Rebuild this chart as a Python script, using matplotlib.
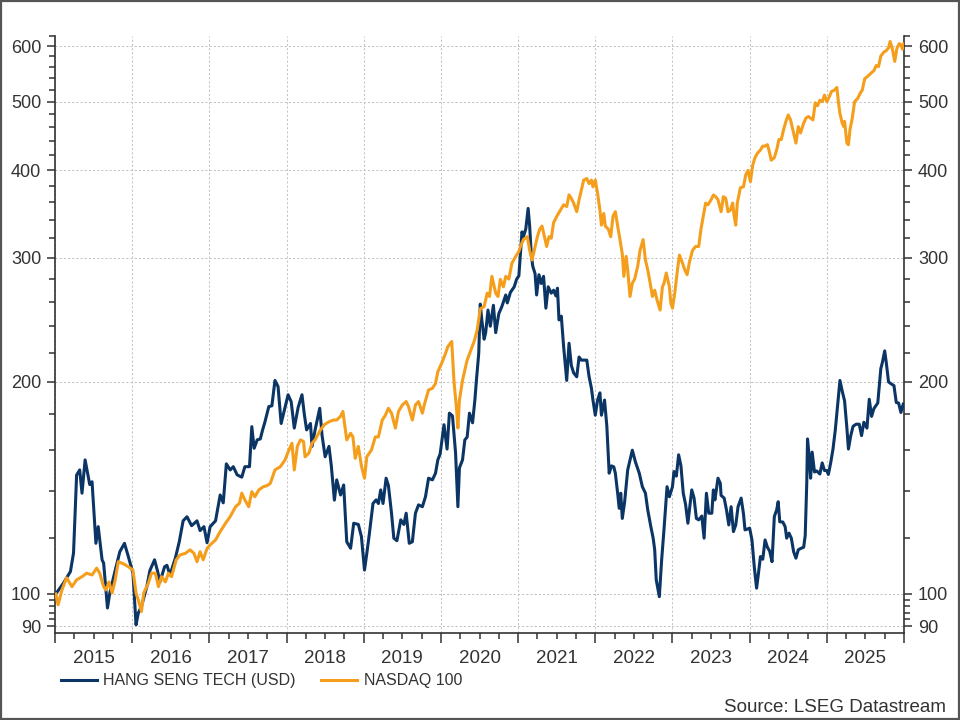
import matplotlib
matplotlib.use('Agg')
import matplotlib.pyplot as plt
import matplotlib.ticker as mticker
from matplotlib.patches import Rectangle

# ---------------- data ----------------
hs_time = [
    2015.01, 2015.11, 2015.20, 2015.24, 2015.28, 2015.32, 2015.35, 2015.39, 2015.45, 2015.48,
    2015.53, 2015.56, 2015.61, 2015.63, 2015.68, 2015.71, 2015.78, 2015.84, 2015.90, 2015.95,
    2016.01, 2016.05, 2016.08, 2016.12, 2016.19, 2016.23, 2016.29, 2016.33, 2016.36, 2016.42,
    2016.45, 2016.49, 2016.56, 2016.61, 2016.66, 2016.71, 2016.77, 2016.84, 2016.88, 2016.93,
    2016.97,
    2017.01, 2017.08, 2017.14, 2017.18, 2017.22, 2017.27, 2017.31, 2017.36, 2017.42, 2017.46,
    2017.52, 2017.55, 2017.58, 2017.62, 2017.66, 2017.69, 2017.72, 2017.77, 2017.81, 2017.85,
    2017.89, 2017.93, 2017.97,
    2018.02, 2018.06, 2018.10, 2018.15, 2018.20, 2018.23, 2018.26, 2018.31, 2018.33, 2018.37,
    2018.43, 2018.46, 2018.50, 2018.55, 2018.58, 2018.62, 2018.65, 2018.70, 2018.74, 2018.78,
    2018.83, 2018.87, 2018.93, 2018.97,
    2019.01, 2019.04, 2019.07, 2019.12, 2019.16, 2019.19, 2019.22, 2019.25, 2019.29, 2019.32,
    2019.36, 2019.39, 2019.43, 2019.48, 2019.52, 2019.55, 2019.59, 2019.63, 2019.67, 2019.71,
    2019.76, 2019.80, 2019.84, 2019.89, 2019.93, 2019.96, 2019.99,
    2020.04, 2020.08, 2020.11, 2020.15, 2020.19, 2020.22, 2020.24, 2020.28, 2020.31, 2020.34,
    2020.37, 2020.41, 2020.44, 2020.46, 2020.49, 2020.51, 2020.53, 2020.56, 2020.58, 2020.61,
    2020.64, 2020.68, 2020.71, 2020.75, 2020.79, 2020.84, 2020.86, 2020.90, 2020.95, 2020.98,
    2021.01, 2021.03, 2021.05, 2021.07, 2021.10, 2021.13, 2021.15, 2021.17, 2021.19, 2021.22,
    2021.24, 2021.27, 2021.30, 2021.33, 2021.36, 2021.39, 2021.43, 2021.46, 2021.49, 2021.51,
    2021.53, 2021.56, 2021.59, 2021.63, 2021.66, 2021.69, 2021.72, 2021.76, 2021.79, 2021.82,
    2021.85, 2021.89, 2021.92, 2021.95, 2021.97,
    2022.00, 2022.03, 2022.06, 2022.08, 2022.12, 2022.15, 2022.18, 2022.21, 2022.24, 2022.26,
    2022.29, 2022.31, 2022.33, 2022.35, 2022.38, 2022.42, 2022.45, 2022.48, 2022.52, 2022.57,
    2022.61, 2022.65, 2022.68, 2022.72, 2022.75, 2022.77, 2022.79, 2022.83, 2022.86, 2022.89,
    2022.93, 2022.96,
    2023.00, 2023.02, 2023.05, 2023.08, 2023.11, 2023.14, 2023.17, 2023.20, 2023.25, 2023.28,
    2023.31, 2023.34, 2023.38, 2023.41, 2023.44, 2023.47, 2023.51, 2023.53, 2023.55, 2023.59,
    2023.62, 2023.63, 2023.67, 2023.70, 2023.73, 2023.76, 2023.79, 2023.82, 2023.85, 2023.89,
    2023.92, 2023.94, 2023.97,
    2024.00, 2024.03, 2024.06, 2024.09, 2024.11, 2024.14, 2024.17, 2024.20, 2024.23, 2024.26,
    2024.29, 2024.32, 2024.35, 2024.37, 2024.39, 2024.43, 2024.46, 2024.48, 2024.51, 2024.54,
    2024.57, 2024.60, 2024.63, 2024.66, 2024.70, 2024.72, 2024.74, 2024.75, 2024.77, 2024.79,
    2024.81, 2024.84, 2024.87, 2024.91, 2024.94, 2024.97,
    2025.00, 2025.02, 2025.05, 2025.08, 2025.11, 2025.14, 2025.17, 2025.20, 2025.23, 2025.26,
    2025.28, 2025.31, 2025.34, 2025.38, 2025.42, 2025.45, 2025.48, 2025.52, 2025.55, 2025.58,
    2025.61, 2025.66, 2025.70, 2025.72, 2025.75, 2025.77, 2025.80, 2025.83, 2025.87, 2025.90,
    2025.93, 2025.96, 2025.99,
]
hs_value = [
    100.0, 103.6, 107.6, 114.3, 147.5, 150.0, 139.0, 155.0, 143.0, 144.3,
    118.0, 124.6, 111.8, 110.6, 95.5, 100.3, 108.0, 114.8, 118.0, 113.0,
    107.0, 90.4, 94.0, 96.0, 102.4, 108.0, 111.8, 107.6, 104.0, 109.3,
    109.8, 106.4, 112.5, 118.6, 127.0, 128.7, 125.0, 127.0, 123.0, 124.6,
    118.2,
    124.6, 127.0, 138.2, 134.7, 153.0, 150.0, 151.6, 147.6, 146.5, 151.6,
    151.6, 172.8, 161.0, 165.5, 166.0, 171.0, 175.5, 184.5, 185.0, 201.0,
    197.0, 174.6, 182.0,
    191.8, 187.5, 172.0, 184.0, 191.8, 180.0, 171.0, 174.6, 162.0, 171.0,
    183.5, 168.0, 156.6, 162.0, 152.0, 135.9, 145.2, 138.2, 142.8, 118.6,
    116.1, 126.0, 125.5, 120.6,
    108.1, 114.2, 121.0, 134.4, 136.0, 134.4, 140.5, 134.4, 146.0, 142.5,
    130.2, 120.0, 119.0, 127.4, 125.5, 130.2, 118.0, 118.6, 130.2, 133.8,
    133.0, 137.4, 146.0, 145.2, 148.4, 155.0, 158.0,
    173.9, 160.6, 180.6, 179.0, 158.5, 133.0, 151.0, 155.0, 165.5, 167.0,
    180.6, 175.0, 188.5, 201.0, 219.6, 258.0, 245.0, 230.0, 235.0, 253.0,
    240.0, 257.0, 235.0, 250.0, 256.0, 265.8, 259.0, 268.0, 273.0, 279.7,
    283.0, 304.0, 326.7, 322.0, 330.0, 352.8, 333.0, 304.0, 292.0, 285.0,
    265.8, 284.0, 276.0, 282.5, 254.6, 273.0, 267.4, 270.0, 265.0, 271.8,
    245.0, 248.0, 224.5, 201.0, 227.0, 211.0, 206.0, 203.4, 217.0, 214.8,
    214.8, 214.8, 203.4, 196.0, 188.5,
    179.4, 188.5, 193.0, 179.4, 188.5, 173.0, 148.4, 152.0, 151.5, 148.4,
    139.0, 132.3, 139.0, 128.0, 135.0, 150.0, 155.0, 160.0, 154.0, 148.4,
    142.0, 139.0, 131.6, 124.6, 120.0, 115.5, 104.7, 99.1, 111.8, 123.3,
    142.0, 137.4,
    142.0, 149.2, 147.0, 157.6, 152.0, 139.0, 134.0, 126.0, 140.5, 136.8,
    128.0, 127.4, 129.0, 120.0, 139.0, 130.2, 130.2, 140.5, 136.0, 146.0,
    143.6, 138.0, 136.8, 131.6, 125.3, 133.0, 122.6, 125.3, 133.0, 136.8,
    130.0, 123.3, 123.6,
    124.0, 119.3, 109.3, 101.9, 106.0, 113.0, 112.0, 119.3, 116.5, 115.0,
    111.1, 128.8, 131.6, 135.2, 126.6, 126.5, 124.6, 120.0, 122.0, 120.0,
    114.8, 112.4, 115.5, 116.0, 116.5, 121.0, 143.6, 166.0, 157.5, 146.0,
    159.0, 149.0, 149.5, 148.0, 153.5, 149.7,
    149.7, 147.8, 153.5, 160.6, 171.0, 185.5, 201.0, 194.0, 188.0, 172.0,
    160.6, 167.8, 173.0, 174.2, 174.2, 167.8, 175.3, 172.0, 189.0, 178.7,
    183.3, 186.7, 209.0, 213.2, 221.4, 213.2, 200.0, 198.9, 197.6, 187.0,
    186.7, 181.0, 186.0,
]

nq_time = [
    2015.01, 2015.04, 2015.09, 2015.15, 2015.22, 2015.28, 2015.35, 2015.41, 2015.48, 2015.54,
    2015.58, 2015.63, 2015.66, 2015.70, 2015.74, 2015.78, 2015.82, 2015.89, 2015.95,
    2016.01, 2016.05, 2016.08, 2016.12, 2016.15, 2016.21, 2016.25, 2016.30, 2016.34, 2016.38,
    2016.43, 2016.47, 2016.51, 2016.57, 2016.62, 2016.69, 2016.75, 2016.80, 2016.84, 2016.88,
    2016.92, 2016.97,
    2017.01, 2017.08, 2017.14, 2017.21, 2017.27, 2017.34, 2017.39, 2017.42, 2017.46, 2017.51,
    2017.55, 2017.59, 2017.64, 2017.70, 2017.75, 2017.79, 2017.85, 2017.92, 2017.98,
    2018.03, 2018.07, 2018.10, 2018.14, 2018.18, 2018.22, 2018.24, 2018.29, 2018.33, 2018.37,
    2018.44, 2018.49, 2018.55, 2018.61, 2018.65, 2018.70, 2018.73, 2018.78, 2018.83, 2018.86,
    2018.89, 2018.93, 2018.97,
    2019.01, 2019.04, 2019.10, 2019.15, 2019.19, 2019.24, 2019.28, 2019.32, 2019.36, 2019.41,
    2019.45, 2019.50, 2019.55, 2019.58, 2019.63, 2019.67, 2019.71, 2019.76, 2019.79, 2019.84,
    2019.89, 2019.93, 2019.96,
    2020.01, 2020.06, 2020.09, 2020.14, 2020.17, 2020.20, 2020.22, 2020.24, 2020.28, 2020.31,
    2020.34, 2020.38, 2020.43, 2020.47, 2020.51, 2020.56, 2020.60, 2020.63, 2020.66, 2020.71,
    2020.74, 2020.77, 2020.81, 2020.84, 2020.88, 2020.92, 2020.97,
    2021.01, 2021.04, 2021.07, 2021.12, 2021.15, 2021.18, 2021.21, 2021.25, 2021.28, 2021.31,
    2021.33, 2021.37, 2021.40, 2021.43, 2021.46, 2021.51, 2021.55, 2021.59, 2021.63, 2021.66,
    2021.69, 2021.72, 2021.76, 2021.79, 2021.82, 2021.85, 2021.89, 2021.92, 2021.95, 2021.97,
    2022.00, 2022.03, 2022.06, 2022.08, 2022.11, 2022.13, 2022.17, 2022.20, 2022.23, 2022.26,
    2022.29, 2022.32, 2022.35, 2022.37, 2022.40, 2022.42, 2022.45, 2022.48, 2022.51, 2022.55,
    2022.58, 2022.62, 2022.65, 2022.68, 2022.72, 2022.74, 2022.77, 2022.80, 2022.84, 2022.87,
    2022.89, 2022.92, 2022.96, 2022.98,
    2023.00, 2023.03, 2023.06, 2023.09, 2023.13, 2023.16, 2023.19, 2023.22, 2023.26, 2023.30,
    2023.34, 2023.37, 2023.40, 2023.43, 2023.46, 2023.50, 2023.53, 2023.56, 2023.59, 2023.63,
    2023.66, 2023.69, 2023.72, 2023.75, 2023.78, 2023.80, 2023.82, 2023.84, 2023.88, 2023.92,
    2023.95, 2023.98,
    2024.01, 2024.04, 2024.07, 2024.10, 2024.14, 2024.17, 2024.20, 2024.23, 2024.25, 2024.28,
    2024.32, 2024.35, 2024.38, 2024.41, 2024.44, 2024.47, 2024.50, 2024.53, 2024.57, 2024.60,
    2024.63, 2024.66, 2024.70, 2024.73, 2024.76, 2024.79, 2024.82, 2024.85, 2024.88, 2024.91,
    2024.94, 2024.97,
    2025.00, 2025.03, 2025.06, 2025.10, 2025.13, 2025.15, 2025.17, 2025.20, 2025.22, 2025.23,
    2025.26, 2025.28, 2025.30, 2025.33, 2025.36, 2025.40, 2025.43, 2025.46, 2025.49, 2025.53,
    2025.57, 2025.61, 2025.64, 2025.67, 2025.70, 2025.74, 2025.77, 2025.80, 2025.82, 2025.85,
    2025.88, 2025.91, 2025.94, 2025.96, 2025.98, 2025.995,
]
nq_value = [
    100.0, 96.5, 101.3, 105.4, 102.4, 104.7, 105.8, 107.0, 106.4, 108.8,
    107.0, 102.4, 101.3, 104.0, 100.3, 104.7, 111.1, 110.3, 109.3,
    108.1, 100.3, 98.0, 94.4, 100.3, 103.6, 107.0, 107.0, 102.4, 105.8,
    104.0, 107.0, 105.8, 111.8, 113.6, 114.2, 115.5, 114.2, 111.1, 114.8,
    111.8, 116.0,
    117.4, 119.3, 122.6, 126.0, 128.8, 133.0, 134.5, 139.0, 136.0, 133.0,
    139.7, 137.4, 140.5, 142.0, 142.5, 143.6, 150.0, 151.6, 155.0,
    160.0, 163.7, 150.0, 162.0, 165.5, 164.6, 156.6, 158.5, 163.7, 165.5,
    171.0, 173.9, 175.6, 176.6, 176.6, 178.8, 181.6, 165.5, 169.1, 167.1,
    155.8, 162.0, 152.0,
    146.0, 156.6, 160.1, 167.1, 167.1, 176.6, 179.4, 183.5, 180.6, 172.0,
    181.6, 185.5, 187.6, 184.5, 176.6, 185.5, 187.6, 180.6, 186.5, 194.8,
    195.9, 199.0, 206.8,
    212.6, 219.6, 224.5, 228.3, 200.0, 184.5, 172.0, 188.5, 201.0, 208.0,
    214.8, 220.8, 228.3, 237.0, 254.0, 256.0, 267.4, 264.5, 282.5, 267.4,
    264.5, 279.7, 273.0, 282.5, 280.0, 295.0, 301.6,
    306.6, 313.4, 318.6, 321.6, 307.6, 298.0, 307.6, 321.6, 329.5, 333.0,
    325.7, 311.5, 321.6, 320.0, 336.8, 345.1, 351.0, 357.0, 355.0, 368.8,
    364.5, 358.9, 349.0, 362.9, 374.5, 387.0, 389.0, 382.6, 387.0, 378.6,
    387.0, 370.6, 351.0, 334.0, 347.0, 333.0, 329.5, 321.6, 344.0, 349.0,
    333.0, 318.6, 304.0, 282.5, 301.6, 288.5, 264.5, 276.2, 280.0, 292.0,
    307.6, 318.6, 298.0, 288.5, 273.0, 264.5, 270.0, 261.5, 253.0, 273.0,
    276.0, 285.6, 273.0, 258.6,
    254.6, 267.4, 285.6, 302.8, 295.0, 288.5, 284.0, 296.0, 307.6, 311.5,
    311.5, 330.0, 344.0, 359.0, 357.0, 362.9, 368.6, 366.6, 362.9, 349.0,
    366.6, 364.7, 349.0, 350.7, 359.0, 344.0, 334.0, 359.0, 377.5, 378.6,
    393.8, 399.5,
    385.0, 406.6, 416.6, 422.4, 427.1, 432.5, 432.5, 434.6, 427.1, 413.0,
    416.6, 427.1, 442.0, 442.0, 456.4, 469.0, 478.9, 471.2, 451.6, 436.8,
    460.9, 451.6, 466.3, 474.0, 476.5, 474.0, 471.2, 498.4, 493.6, 502.4,
    500.2, 511.0,
    500.0, 507.6, 517.0, 519.6, 524.0, 500.2, 481.4, 466.0, 460.9, 469.0,
    436.8, 434.5, 456.4, 474.0, 500.2, 505.5, 513.5, 519.6, 539.0, 543.5,
    548.7, 553.6, 563.0, 561.0, 580.7, 588.4, 591.0, 596.6, 609.0, 594.0,
    570.6, 596.6, 604.8, 602.0, 594.0, 604.0,
]

series_names = ['HANG SENG TECH (USD)', 'NASDAQ 100']
year_ticks = list(range(2015, 2027))
y_major_ticks = [90, 100, 200, 300, 400, 500, 600]
y_minor_ticks = [92, 94, 96, 98, 120, 140, 160, 180, 220, 240, 260, 280,
                 320, 340, 360, 380, 420, 440, 460, 480, 520, 540, 560, 580, 620]
source_text = 'Source: LSEG Datastream'

# ---------------- styling ----------------
NAVY = '#0b3565'
ORANGE = '#f59e1b'
TXT = '#333333'

plt.rcParams['font.family'] = ['Liberation Sans', 'DejaVu Sans']

fig = plt.figure(figsize=(9.6, 7.2), dpi=100)
fig.patch.set_facecolor('white')
ax = fig.add_axes([55 / 960, 1 - 633 / 720, (904 - 55) / 960, (633 - 36) / 720])

l1, = ax.plot(hs_time, hs_value, color=NAVY, lw=2.2, label=series_names[0],
              solid_joinstyle='round', zorder=3)
l2, = ax.plot(nq_time, nq_value, color=ORANGE, lw=2.2, label=series_names[1],
              solid_joinstyle='round', zorder=4)

ax.set_yscale('log')
ax.set_ylim(88, 620)
ax.set_xlim(2015, 2026)

ax.yaxis.set_major_locator(mticker.FixedLocator(y_major_ticks))
ax.yaxis.set_major_formatter(mticker.FuncFormatter(lambda v, p: f'{v:g}'))
ax.yaxis.set_minor_locator(mticker.FixedLocator(y_minor_ticks))
ax.yaxis.set_minor_formatter(mticker.NullFormatter())

quarters = [y + q for y in range(2015, 2026) for q in (0.25, 0.5, 0.75)]
ax.xaxis.set_major_locator(mticker.FixedLocator(year_ticks))
ax.xaxis.set_major_formatter(mticker.NullFormatter())
ax.xaxis.set_minor_locator(mticker.FixedLocator(quarters))
ax.xaxis.set_minor_formatter(mticker.FuncFormatter(
    lambda v, p: str(int(v)) if abs(v - int(v) - 0.5) < 1e-6 else ''))

ax.grid(which='major', color='#c4c4c4', linestyle=(0, (2, 2)), linewidth=0.75)
ax.set_axisbelow(True)

for s in ('left', 'right', 'bottom'):
    ax.spines[s].set_color(TXT)
    ax.spines[s].set_linewidth(1.2)
ax.spines['top'].set_visible(False)

ax.tick_params(axis='y', which='both', direction='out', left=True, right=True,
               labelleft=True, labelright=True, colors=TXT, labelsize=13, width=1.1)
ax.tick_params(axis='y', which='major', length=6, pad=4)
ax.tick_params(axis='y', which='minor', length=4)
ax.tick_params(axis='x', which='both', direction='out', colors=TXT, width=1.1)
ax.tick_params(axis='x', which='major', length=7)
ax.tick_params(axis='x', which='minor', length=4, labelsize=13.5, pad=8)

fig.legend(handles=[l1, l2], loc='center left',
           bbox_to_anchor=(61 / 960, 1 - 681 / 720), ncol=2, frameon=False,
           fontsize=11.5, handlelength=2.25, handletextpad=0.4,
           columnspacing=1.6, borderpad=0, borderaxespad=0, labelcolor=TXT)

fig.text(946 / 960, 1 - 707 / 720, source_text, ha='right', va='center',
         fontsize=13.5, color=TXT)

fig.add_artist(Rectangle((0.0015, 0.002), 0.997, 0.996, transform=fig.transFigure,
                         fill=False, edgecolor='#555555', linewidth=1.6))

fig.savefig('out.png', dpi=100)
